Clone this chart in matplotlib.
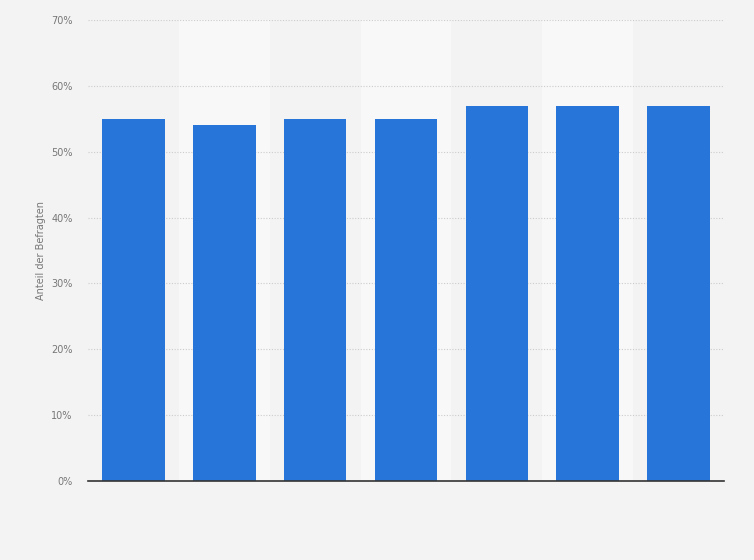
import matplotlib.pyplot as plt
import numpy as np

# Survey shares per category (no category labels shown)
values = [55, 54, 55, 55, 57, 57, 57]
yticks = [0, 10, 20, 30, 40, 50, 60, 70]
ylabel = "Anteil der Befragten"

bg = "#f3f3f3"
band = "#f8f8f8"
bar_color = "#2775d9"

fig = plt.figure(figsize=(7.54, 5.6), dpi=100, facecolor=bg)
ax = fig.add_axes([0.1167, 0.1411, 0.8435, 0.8232])
ax.set_facecolor(bg)

x = np.arange(len(values))

# alternating lighter column bands
for i in x:
    if i % 2 == 1:
        ax.axvspan(i - 0.5, i + 0.5, color=band, zorder=0, lw=0)

ax.bar(x, values, width=0.69, color=bar_color, zorder=3)

ax.set_xlim(-0.5, len(values) - 0.5)
ax.set_ylim(0, 70)
ax.set_yticks(yticks)
ax.set_yticklabels([f"{t}%" for t in yticks], color="#777777", fontsize=7)
ax.set_xticks([])
ax.tick_params(axis="y", length=0, pad=11)

ax.grid(axis="y", color="#cccccc", linestyle=(0, (1, 1.5)), linewidth=0.8, zorder=1)
ax.set_axisbelow(True)

for s in ["top", "right", "left"]:
    ax.spines[s].set_visible(False)
ax.spines["bottom"].set_color("#333333")
ax.spines["bottom"].set_linewidth(1.2)
ax.spines["bottom"].set_zorder(4)

ax.set_ylabel(ylabel, color="#777777", fontsize=7, labelpad=4)

fig.savefig("out.png", dpi=100, facecolor=bg)
